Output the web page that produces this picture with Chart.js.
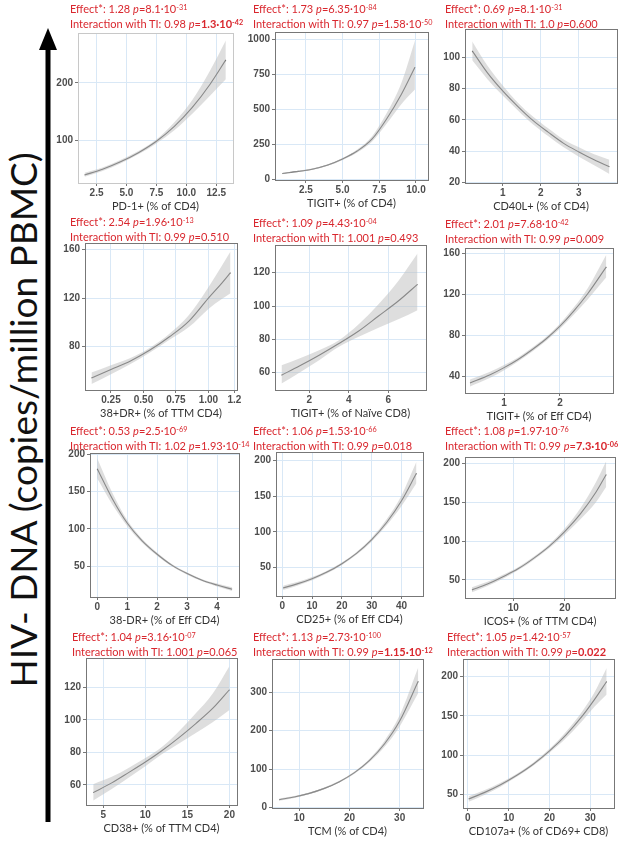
<!DOCTYPE html>
<html>
<head>
<meta charset="utf-8">
<script src="https://cdn.jsdelivr.net/npm/chart.js@4.4.1/dist/chart.umd.min.js"></script>
<style>
  body { margin: 0; background: #fff; }
  #wrap { position: relative; width: 625px; height: 841px; overflow: hidden; }
  canvas { position: absolute; }
  .note { position: absolute; color: #d9272e; font-family: "Liberation Sans Narrow", "Lato", sans-serif; font-size: 11px; line-height: 15px; white-space: nowrap; }
  .note sup { font-size: 0.66em; vertical-align: 0.45em; line-height: 0; }
  .note i { font-style: italic; }
  #ylab { position: absolute; left: 22px; top: 420px; transform: translate(-50%, -50%) rotate(-90deg); font-family: "Lato", sans-serif; font-size: 37px; color: #111; white-space: nowrap; }
</style>
</head>
<body>
<div id="wrap">
  <svg width="625" height="841" style="position:absolute;left:0;top:0">
    <line x1="48" y1="46" x2="48" y2="822" stroke="#000" stroke-width="5"/>
    <polygon points="48,28 39,50 57,50" fill="#000"/>
  </svg>
  <div id="ylab">HIV- DNA (copies/million PBMC)</div>
</div>
<script>
// ---- panel data ----
const pd1X  = [1.5, 3, 4.5, 6, 7.5, 9, 10.5, 12, 13.3];
const pd1Y  = [39, 49, 62, 78, 98, 124, 157, 198, 240];
const pd1Lo = [36, 46, 59, 75, 94, 117, 146, 178, 206];
const pd1Hi = [43, 52, 65, 81, 101, 131, 170, 222, 274];

const tigitX  = [0.9, 2, 3, 4, 5, 6, 7, 8, 9, 9.93];
const tigitY  = [40, 55, 72, 100, 143, 200, 285, 430, 605, 800];
const tigitLo = [35, 50, 67, 95, 137, 190, 267, 395, 535, 640];
const tigitHi = [45, 60, 77, 105, 150, 212, 305, 470, 685, 990];

const cd40X  = [0.2, 0.6, 1, 1.4, 1.8, 2.2, 2.6, 3, 3.4, 3.8];
const cd40Y  = [104, 90, 78.5, 68.5, 59.5, 52, 45, 39.5, 34.5, 30];
const cd40Lo = [98, 86, 75.5, 66, 57, 49.5, 42.5, 36.5, 31, 25.5];
const cd40Hi = [110, 94.5, 82, 71, 62, 54.5, 47.5, 42.5, 38, 34.5];

const drX  = [0.1, 0.25, 0.4, 0.55, 0.7, 0.85, 1.0, 1.1, 1.17];
const drY  = [54, 61, 68, 77, 88, 101, 120, 132, 141];
const drLo = [49, 57, 65.5, 75, 85.5, 96, 111, 119, 124];
const drHi = [58.5, 64.5, 70.5, 79, 90.5, 106, 129, 146, 158.5];

const naiveX  = [0.6, 1.5, 2.5, 3.5, 4.5, 5.5, 6.5, 7.47];
const naiveY  = [58.5, 64, 70.5, 77.5, 85, 94, 103, 113];
const naiveLo = [53.5, 60, 67.5, 75.5, 81.5, 87, 92, 97.5];
const naiveHi = [64.5, 68.5, 73.5, 79.5, 89, 101, 115, 131.5];

const effTigX  = [0.39, 0.75, 1, 1.25, 1.5, 1.75, 2, 2.25, 2.5, 2.83];
const effTigY  = [33.5, 41.5, 48.5, 56.5, 66, 76.5, 89, 104, 121, 147];
const effTigLo = [30, 38.5, 46, 54.5, 64, 74.5, 86.5, 100.5, 115.5, 137];
const effTigHi = [37, 44.5, 51, 58.5, 68, 78.5, 91.5, 107.5, 126.5, 159];

const dnegX  = [0, 0.5, 1, 1.5, 2, 2.5, 3, 3.5, 4, 4.5];
const dnegY  = [181, 141, 108, 84, 66, 51, 40, 31, 24.5, 19];
const dnegLo = [168, 133, 104, 81.5, 64, 49.5, 38.5, 29.5, 22.5, 16.5];
const dnegHi = [195, 149, 112, 86.5, 68, 52.5, 41.5, 32.5, 26.5, 21.5];

const cd25X  = [0.3, 5, 10, 15, 20, 25, 30, 35, 40, 45];
const cd25Y  = [21.3, 27, 34.3, 43.5, 55.3, 70, 89, 113, 143.5, 182];
const cd25Lo = [18.5, 24.5, 32, 41.5, 53.5, 68, 86.5, 109, 136, 168];
const cd25Hi = [24.5, 29.5, 36.5, 45.5, 57, 72, 91.5, 117.5, 151, 198];

const icosX  = [2, 5, 8, 11, 14, 17, 20, 23, 26, 28];
const icosY  = [37, 44.5, 54, 64.5, 78, 93.5, 112.5, 135, 163, 186];
const icosLo = [34, 42, 51.5, 62.5, 76, 91, 108.5, 128, 150, 170];
const icosHi = [40.5, 47.5, 56.5, 66.5, 80, 96, 116.5, 142.5, 176, 203];

const cd38X  = [3.8, 6, 8, 10, 12, 14, 16, 18, 20];
const cd38Y  = [55.3, 61.3, 67.6, 74.1, 81.2, 89.1, 97.7, 107, 118.5];
const cd38Lo = [50.5, 57.5, 64.5, 71.5, 79, 85.5, 92, 98.5, 106];
const cd38Hi = [60.5, 65, 70.5, 76.5, 83.5, 93, 104, 116, 133];

const tcmX  = [6, 9, 12, 15, 18, 21, 24, 27, 30, 33.7];
const tcmY  = [20, 27, 36.5, 49.5, 67, 90.5, 122.5, 166, 225, 329];
const tcmLo = [17, 24.5, 34, 47, 64.5, 87.5, 118, 158, 211, 298];
const tcmHi = [23, 29.5, 39, 52, 69.5, 93.5, 127, 174, 240, 365];

const cd107X  = [0.2, 4, 8, 12, 16, 20, 24, 28, 31, 34];
const cd107Y  = [44.5, 52.5, 62.5, 74.5, 88.5, 105.5, 125.5, 149.5, 170.5, 193.5];
const cd107Lo = [41, 49.5, 60, 72.5, 86.5, 103, 121.5, 143.5, 161.5, 177];
const cd107Hi = [48, 55.5, 65, 76.5, 90.5, 108, 129.5, 155.5, 179.5, 210.5];

// axis titles and tick labels
const xTitles = ['PD-1+ (% of CD4)', 'TIGIT+ (% of CD4)', 'CD40L+ (% of CD4)',
  '38+DR+ (% of TTM CD4)', 'TIGIT+ (% of Naïve CD8)', 'TIGIT+ (% of Eff CD4)',
  '38-DR+ (% of Eff CD4)', 'CD25+ (% of Eff CD4)', 'ICOS+ (% of TTM CD4)',
  'CD38+ (% of TTM CD4)', 'TCM (% of CD4)', 'CD107a+ (% of CD69+ CD8)'];
const xTickLabels = [
  ['2.5', '5.0', '7.5', '10.0', '12.5'], ['2.5', '5.0', '7.5', '10.0'], ['1', '2', '3'],
  ['0.25', '0.50', '0.75', '1.00', '1.2'], ['2', '4', '6'], ['1', '2'],
  ['0', '1', '2', '3', '4'], ['0', '10', '20', '30', '40'], ['10', '20'],
  ['5', '10', '15', '20'], ['10', '20', '30'], ['0', '10', '20', '30']];
const yTickLabels = [
  ['100', '200'], ['0', '250', '500', '750', '1000'], ['20', '40', '60', '80', '100'],
  ['80', '120', '160'], ['60', '80', '100', '120'], ['40', '80', '120', '160'],
  ['50', '100', '150', '200'], ['50', '100', '150', '200'], ['50', '100', '150', '200'],
  ['60', '80', '100', '120'], ['0', '100', '200', '300'], ['50', '100', '150', '200']];

// annotation text
const effectEst = ['1.28', '1.73', '0.69', '2.54', '1.09', '2.01', '0.53', '1.06', '1.08', '1.04', '1.13', '1.05'];
const effectP = [['8.1', '-31'], ['6.35', '-84'], ['8.1', '-31'], ['1.96', '-13'], ['4.43', '-04'], ['7.68', '-42'],
  ['2.5', '-69'], ['1.53', '-66'], ['1.97', '-76'], ['3.16', '-07'], ['2.73', '-100'], ['1.42', '-57']];
const interEst = ['0.98', '0.97', '1.0', '0.99', '1.001', '0.99', '1.02', '0.99', '0.99', '1.001', '0.99', '0.99'];
const interP = [['1.3', '-42'], ['1.58', '-50'], ['0.600'], ['0.510'], ['0.493'], ['0.009'],
  ['1.93', '-14'], ['0.018'], ['7.3', '-06'], ['0.065'], ['1.15', '-12'], ['0.022']];
const interBold = [true, false, false, false, false, false, false, false, true, false, true, true];

// ---- layout (pixel boxes of each plot area) ----
const series = [
  [pd1X, pd1Y, pd1Lo, pd1Hi], [tigitX, tigitY, tigitLo, tigitHi], [cd40X, cd40Y, cd40Lo, cd40Hi],
  [drX, drY, drLo, drHi], [naiveX, naiveY, naiveLo, naiveHi], [effTigX, effTigY, effTigLo, effTigHi],
  [dnegX, dnegY, dnegLo, dnegHi], [cd25X, cd25Y, cd25Lo, cd25Hi], [icosX, icosY, icosLo, icosHi],
  [cd38X, cd38Y, cd38Lo, cd38Hi], [tcmX, tcmY, tcmLo, tcmHi], [cd107X, cd107Y, cd107Lo, cd107Hi]];
const boxes = [
  [78, 33, 233, 183], [275, 32, 428, 180], [465, 29, 617, 183],
  [85, 243, 237, 390], [275, 245, 426, 390], [465, 248, 613, 393],
  [90, 453, 239, 597], [276, 452, 423, 596], [465, 457, 615, 598],
  [86, 658, 237, 805], [272, 659, 423, 808], [463, 659, 614, 808]];
const ranges = [
  [0.95, 13.9, 25, 287], [0.4, 10.82, -7, 1052], [0.01, 4.0, 19.7, 118],
  [0.05, 1.22, 44, 165.5], [0.27, 7.9, 49.6, 136.6], [0.3, 2.95, 23.7, 165.5],
  [-0.24, 4.73, 8.5, 202], [-2.1, 47.2, 10, 211.8], [0.65, 29.7, 26.5, 208.5],
  [2.94, 20.9, 47.7, 138], [4.57, 34.65, -1.7, 387], [-1.2, 35.8, 33, 222]];
const notePos = [[70, 1], [253, 1], [445, 1], [70, 214], [253, 215], [445, 216],
  [70, 423], [253, 423], [445, 423], [72, 629], [253, 629], [447, 629]];

const Y_AXIS_W = 30, X_AXIS_H = 30, PAD_TOP = 8, PAD_RIGHT = 12;
const wrap = document.getElementById('wrap');

// draws the grey frame round the plot area
const frame = {
  id: 'frame',
  afterDraw(chart, args, opts) {
    const a = chart.chartArea, ctx = chart.ctx;
    ctx.save();
    ctx.strokeStyle = opts.color || '#777';
    ctx.lineWidth = 1;
    ctx.strokeRect(Math.round(a.left) + 0.5, Math.round(a.top) + 0.5,
      Math.round(a.right - a.left), Math.round(a.bottom - a.top));
    ctx.restore();
  }
};

function pts(xs, ys) {
  return xs.map((x, i) => ({ x: x, y: ys[i] }));
}

function sup(m, e) {
  return e === undefined ? m : `${m}·10<sup>${e}</sup>`;
}

series.forEach((s, k) => {
  const [bl, bt, br, bb] = boxes[k];
  const [xmin, xmax, ymin, ymax] = ranges[k];
  const w = (br - bl) + Y_AXIS_W + PAD_RIGHT;
  const h = (bb - bt) + PAD_TOP + X_AXIS_H;

  const canvas = document.createElement('canvas');
  canvas.width = w;
  canvas.height = h;
  canvas.style.left = (bl - Y_AXIS_W) + 'px';
  canvas.style.top = (bt - PAD_TOP) + 'px';
  canvas.style.width = w + 'px';
  canvas.style.height = h + 'px';
  wrap.appendChild(canvas);

  const xVals = xTickLabels[k].map(parseFloat);
  const yVals = yTickLabels[k].map(parseFloat);
  const tickFont = { family: 'Liberation Sans', size: 10, weight: 'bold' };

  new Chart(canvas, {
    type: 'line',
    data: {
      datasets: [
        {
          data: pts(s[0], s[3]), borderWidth: 0, pointRadius: 0,
          fill: '+1', backgroundColor: 'rgba(190,190,190,0.5)',
          cubicInterpolationMode: 'monotone'
        },
        {
          data: pts(s[0], s[2]), borderWidth: 0, pointRadius: 0,
          fill: false, cubicInterpolationMode: 'monotone'
        },
        {
          data: pts(s[0], s[1]), borderColor: '#555', borderWidth: 1.1,
          pointRadius: 0, fill: false, cubicInterpolationMode: 'monotone'
        }
      ]
    },
    options: {
      responsive: false,
      animation: false,
      devicePixelRatio: 1,
      layout: { padding: { top: PAD_TOP, right: PAD_RIGHT, left: 0, bottom: 0 } },
      plugins: {
        legend: { display: false },
        tooltip: { enabled: false },
        frame: { color: k === 0 ? '#c8c8c8' : '#777' }
      },
      scales: {
        x: {
          type: 'linear', min: xmin, max: xmax,
          afterFit: (sc) => { sc.height = X_AXIS_H; },
          afterBuildTicks: (sc) => { sc.ticks = xVals.map(v => ({ value: v })); },
          ticks: {
            callback: (v, i) => xTickLabels[k][i],
            autoSkip: false, maxRotation: 0, padding: 1,
            color: '#4d4d4d', font: tickFont
          },
          grid: { color: '#d9e8f6', tickLength: 3, tickColor: '#777' },
          border: { display: false },
          title: {
            display: true, text: xTitles[k], padding: { top: 0, bottom: 0 },
            color: '#333', font: { family: 'Lato', size: 11 }
          }
        },
        y: {
          type: 'linear', min: ymin, max: ymax,
          afterFit: (sc) => { sc.width = Y_AXIS_W; },
          afterBuildTicks: (sc) => { sc.ticks = yVals.map(v => ({ value: v })); },
          ticks: {
            callback: (v, i) => yTickLabels[k][i],
            autoSkip: false, padding: 2,
            color: '#4d4d4d', font: tickFont
          },
          grid: { color: '#d9e8f6', tickLength: 3, tickColor: '#777' },
          border: { display: false }
        }
      }
    },
    plugins: [frame]
  });

  const note = document.createElement('div');
  note.className = 'note';
  note.style.left = notePos[k][0] + 'px';
  note.style.top = notePos[k][1] + 'px';
  const ip = sup(interP[k][0], interP[k][1]);
  note.innerHTML =
    `Effect*: ${effectEst[k]} <i>p</i>=${sup(effectP[k][0], effectP[k][1])}<br>` +
    `Interaction with TI: ${interEst[k]} <i>p</i>=${interBold[k] ? '<b>' + ip + '</b>' : ip}`;
  wrap.appendChild(note);
});
</script>
</body>
</html>
